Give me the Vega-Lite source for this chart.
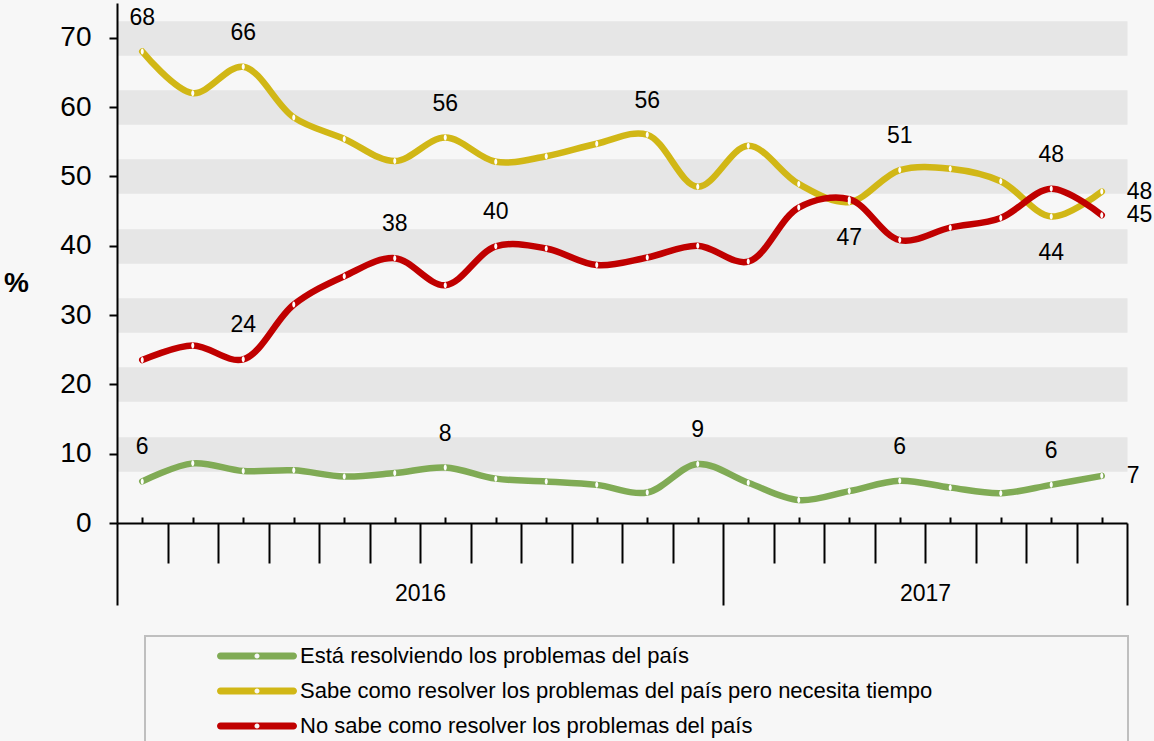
{
  "$schema": "https://vega.github.io/schema/vega-lite/v6.json",
  "width": 1010,
  "height": 520,
  "autosize": {"type": "none"},
  "padding": {"left": 117, "top": 3, "right": 27, "bottom": 218},
  "background": "#f7f7f7",
  "config": {
    "view": {"stroke": null},
    "font": "Liberation Sans",
    "legend": {"strokeWidth": 2}
  },
  "data": {
    "values": [
      {"idx": 0, "serie": "Está resolviendo los problemas del país", "v": 6, "lab": "6"},
      {"idx": 1, "serie": "Está resolviendo los problemas del país", "v": 8.6},
      {"idx": 2, "serie": "Está resolviendo los problemas del país", "v": 7.5},
      {"idx": 3, "serie": "Está resolviendo los problemas del país", "v": 7.6},
      {"idx": 4, "serie": "Está resolviendo los problemas del país", "v": 6.7},
      {"idx": 5, "serie": "Está resolviendo los problemas del país", "v": 7.2},
      {"idx": 6, "serie": "Está resolviendo los problemas del país", "v": 8, "lab": "8"},
      {"idx": 7, "serie": "Está resolviendo los problemas del país", "v": 6.4},
      {"idx": 8, "serie": "Está resolviendo los problemas del país", "v": 6},
      {"idx": 9, "serie": "Está resolviendo los problemas del país", "v": 5.5},
      {"idx": 10, "serie": "Está resolviendo los problemas del país", "v": 4.4},
      {"idx": 11, "serie": "Está resolviendo los problemas del país", "v": 8.5, "lab": "9"},
      {"idx": 12, "serie": "Está resolviendo los problemas del país", "v": 5.8},
      {"idx": 13, "serie": "Está resolviendo los problemas del país", "v": 3.3},
      {"idx": 14, "serie": "Está resolviendo los problemas del país", "v": 4.6},
      {"idx": 15, "serie": "Está resolviendo los problemas del país", "v": 6.1, "lab": "6"},
      {"idx": 16, "serie": "Está resolviendo los problemas del país", "v": 5.1},
      {"idx": 17, "serie": "Está resolviendo los problemas del país", "v": 4.3},
      {"idx": 18, "serie": "Está resolviendo los problemas del país", "v": 5.5, "lab": "6"},
      {"idx": 19, "serie": "Está resolviendo los problemas del país", "v": 6.8, "lab": "7"},
      {"idx": 0, "serie": "Sabe como resolver los problemas del país pero necesita tiempo", "v": 68, "lab": "68"},
      {"idx": 1, "serie": "Sabe como resolver los problemas del país pero necesita tiempo", "v": 62},
      {"idx": 2, "serie": "Sabe como resolver los problemas del país pero necesita tiempo", "v": 65.8, "lab": "66"},
      {"idx": 3, "serie": "Sabe como resolver los problemas del país pero necesita tiempo", "v": 58.5},
      {"idx": 4, "serie": "Sabe como resolver los problemas del país pero necesita tiempo", "v": 55.4},
      {"idx": 5, "serie": "Sabe como resolver los problemas del país pero necesita tiempo", "v": 52.2},
      {"idx": 6, "serie": "Sabe como resolver los problemas del país pero necesita tiempo", "v": 55.6, "lab": "56"},
      {"idx": 7, "serie": "Sabe como resolver los problemas del país pero necesita tiempo", "v": 52.1},
      {"idx": 8, "serie": "Sabe como resolver los problemas del país pero necesita tiempo", "v": 52.9},
      {"idx": 9, "serie": "Sabe como resolver los problemas del país pero necesita tiempo", "v": 54.7},
      {"idx": 10, "serie": "Sabe como resolver los problemas del país pero necesita tiempo", "v": 56, "lab": "56"},
      {"idx": 11, "serie": "Sabe como resolver los problemas del país pero necesita tiempo", "v": 48.5},
      {"idx": 12, "serie": "Sabe como resolver los problemas del país pero necesita tiempo", "v": 54.4},
      {"idx": 13, "serie": "Sabe como resolver los problemas del país pero necesita tiempo", "v": 48.9},
      {"idx": 14, "serie": "Sabe como resolver los problemas del país pero necesita tiempo", "v": 46.3, "lab": "47"},
      {"idx": 15, "serie": "Sabe como resolver los problemas del país pero necesita tiempo", "v": 50.9, "lab": "51"},
      {"idx": 16, "serie": "Sabe como resolver los problemas del país pero necesita tiempo", "v": 51.1},
      {"idx": 17, "serie": "Sabe como resolver los problemas del país pero necesita tiempo", "v": 49.3},
      {"idx": 18, "serie": "Sabe como resolver los problemas del país pero necesita tiempo", "v": 44.2, "lab": "44"},
      {"idx": 19, "serie": "Sabe como resolver los problemas del país pero necesita tiempo", "v": 47.8, "lab": "48"},
      {"idx": 0, "serie": "No sabe como resolver los problemas del país", "v": 23.5},
      {"idx": 1, "serie": "No sabe como resolver los problemas del país", "v": 25.6},
      {"idx": 2, "serie": "No sabe como resolver los problemas del país", "v": 23.6, "lab": "24"},
      {"idx": 3, "serie": "No sabe como resolver los problemas del país", "v": 31.5},
      {"idx": 4, "serie": "No sabe como resolver los problemas del país", "v": 35.6},
      {"idx": 5, "serie": "No sabe como resolver los problemas del país", "v": 38.2, "lab": "38"},
      {"idx": 6, "serie": "No sabe como resolver los problemas del país", "v": 34.3},
      {"idx": 7, "serie": "No sabe como resolver los problemas del país", "v": 39.9, "lab": "40"},
      {"idx": 8, "serie": "No sabe como resolver los problemas del país", "v": 39.6},
      {"idx": 9, "serie": "No sabe como resolver los problemas del país", "v": 37.2},
      {"idx": 10, "serie": "No sabe como resolver los problemas del país", "v": 38.3},
      {"idx": 11, "serie": "No sabe como resolver los problemas del país", "v": 40},
      {"idx": 12, "serie": "No sabe como resolver los problemas del país", "v": 37.7},
      {"idx": 13, "serie": "No sabe como resolver los problemas del país", "v": 45.5},
      {"idx": 14, "serie": "No sabe como resolver los problemas del país", "v": 46.7},
      {"idx": 15, "serie": "No sabe como resolver los problemas del país", "v": 40.8},
      {"idx": 16, "serie": "No sabe como resolver los problemas del país", "v": 42.6},
      {"idx": 17, "serie": "No sabe como resolver los problemas del país", "v": 44},
      {"idx": 18, "serie": "No sabe como resolver los problemas del país", "v": 48.2, "lab": "48"},
      {"idx": 19, "serie": "No sabe como resolver los problemas del país", "v": 44.4, "lab": "45"}
    ]
  },
  "resolve": {"axis": {"x": "independent", "y": "independent"}},
  "layer": [
    {
      "mark": {"type": "line", "interpolate": "catmull-rom", "strokeWidth": 6.5, "strokeCap": "round", "strokeJoin": "round"},
      "encoding": {
        "x": {
          "field": "idx", "type": "quantitative",
          "scale": {"domain": [-0.5, 19.5], "nice": false, "zero": false},
          "axis": {
            "orient": "bottom", "values": [0,1,2,3,4,5,6,7,8,9,10,11,12,13,14,15,16,17,18,19],
            "labels": false, "grid": false, "title": null,
            "domain": true, "domainColor": "#000000", "domainWidth": 2,
            "ticks": true, "tickSize": -6, "tickColor": "#000000", "tickWidth": 2
          }
        },
        "y": {
          "field": "v", "type": "quantitative",
          "scale": {"domain": [0, 75], "nice": false},
          "axis": {
            "orient": "left",
            "values": [0, 10, 20, 30, 40, 50, 60, 70],
            "grid": true, "gridWidth": 34.67,
            "gridColor": {"condition": {"test": "datum.value === 0", "value": "transparent"}, "value": "#e6e6e6"},
            "domainColor": "#000000", "domainWidth": 2,
            "tickColor": "#000000", "tickWidth": 2, "tickSize": 8,
            "labelFontSize": 28, "labelColor": "#000000", "labelPadding": 18, "labelFont": "Liberation Sans",
            "title": "%", "titleAngle": 0, "titleFontSize": 28, "titleFontWeight": "bold", "titleColor": "#000000",
            "titleX": -101, "titleY": 280, "titleAlign": "center", "titleBaseline": "middle"
          }
        },
        "color": {
          "field": "serie", "type": "nominal",
          "scale": {
            "domain": ["Está resolviendo los problemas del país", "Sabe como resolver los problemas del país pero necesita tiempo", "No sabe como resolver los problemas del país"],
            "range": ["#80ab55", "#d1b716", "#c00000"]
          },
          "legend": {
            "orient": "none", "legendX": 28, "legendY": 633, "title": null,
            "direction": "vertical",
            "symbolType": "M-3.65,-0.35L3.65,-0.35A0.35,0.35 0 0 1 3.65,0.35L-3.65,0.35A0.35,0.35 0 0 1 -3.65,-0.35ZM0.25,0A0.25,0.25 0 0 0 -0.25,0A0.25,0.25 0 0 0 0.25,0ZM86.2,0L86.2,0Z",
            "symbolSize": 400, "symbolStrokeWidth": 0, "symbolOffset": 92,
            "labelFontSize": 22, "labelColor": "#000000", "labelOffset": 32, "labelLimit": 2000,
            "rowPadding": 13, "padding": 9,
            "fillColor": "#f7f7f7", "strokeColor": "#bfbfbf",
            "encode": {"symbols": {"update": {"fill": {"scale": "color", "field": "value"}, "stroke": {"value": "transparent"}}}}
          }
        }
      }
    },
    {
      "mark": {"type": "point", "filled": true, "shape": "M0,-1A0.5,1 0 1 1 0,1A0.5,1 0 1 1 0,-1Z", "size": 36, "color": "#ffffff", "opacity": 1},
      "encoding": {
        "x": {
          "field": "idx", "type": "quantitative",
          "axis": {
            "orient": "bottom",
            "values": [-0.5,0.5,1.5,2.5,3.5,4.5,5.5,6.5,7.5,8.5,9.5,10.5,11.5,12.5,13.5,14.5,15.5,16.5,17.5,18.5,19.5],
            "labels": false, "grid": false, "title": null, "domain": false,
            "ticks": true, "tickColor": "#000000", "tickWidth": 2,
            "tickSize": {"condition": {"test": "datum.value === -0.5 || datum.value === 11.5 || datum.value === 19.5", "value": 82}, "value": 40}
          }
        },
        "y": {"field": "v", "type": "quantitative", "axis": null}
      }
    },
    {
      "transform": [
        {"filter": "isValid(datum.lab) && datum.idx < 19 && !(datum.serie === 'Sabe como resolver los problemas del país pero necesita tiempo' && (datum.idx === 14 || datum.idx === 18))"}
      ],
      "mark": {"type": "text", "dy": -34, "fontSize": 23, "color": "#000000", "baseline": "middle", "align": "center"},
      "encoding": {
        "x": {
          "field": "idx", "type": "quantitative",
          "axis": {
            "orient": "bottom", "values": [5.5, 15.5],
            "labelExpr": "datum.value === 5.5 ? '2016' : '2017'",
            "ticks": false, "tickSize": 0, "domain": false, "grid": false, "title": null,
            "labelFontSize": 23, "labelColor": "#000000", "labelPadding": 59, "labelBaseline": "top"
          }
        },
        "y": {"field": "v", "type": "quantitative", "axis": null},
        "text": {"field": "lab"}
      }
    },
    {
      "transform": [
        {"filter": "datum.serie === 'Sabe como resolver los problemas del país pero necesita tiempo' && (datum.idx === 14 || datum.idx === 18)"}
      ],
      "mark": {"type": "text", "dy": 36, "fontSize": 23, "color": "#000000", "baseline": "middle", "align": "center"},
      "encoding": {
        "x": {"field": "idx", "type": "quantitative", "axis": null},
        "y": {"field": "v", "type": "quantitative", "axis": null},
        "text": {"field": "lab"}
      }
    },
    {
      "transform": [{"filter": "isValid(datum.lab) && datum.idx === 19"}],
      "mark": {"type": "text", "dx": 25, "fontSize": 23, "color": "#000000", "baseline": "middle", "align": "left"},
      "encoding": {
        "x": {"field": "idx", "type": "quantitative", "axis": null},
        "y": {"field": "v", "type": "quantitative", "axis": null},
        "text": {"field": "lab"}
      }
    }
  ]
}
